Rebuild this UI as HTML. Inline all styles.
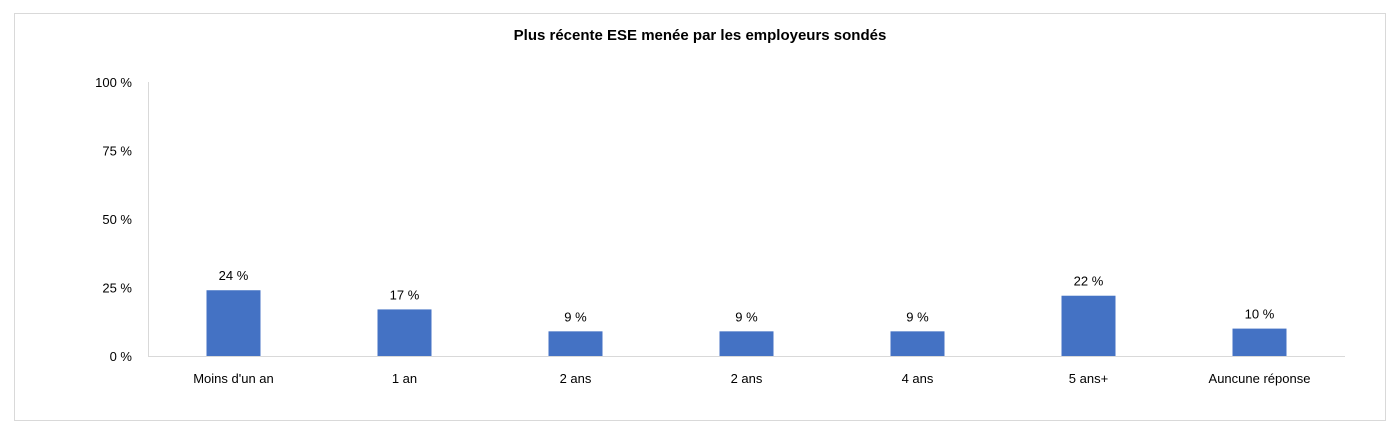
<!DOCTYPE html>
<html><head><meta charset="utf-8"><style>
body{margin:0;background:#fff;width:1400px;height:439px;overflow:hidden;font-family:"Liberation Sans",sans-serif}
</style></head><body>
<svg width="1400" height="439" xmlns="http://www.w3.org/2000/svg">
<rect x="14.5" y="13.5" width="1371" height="407" fill="#fff" stroke="#d9d9d9"/>
<text x="700" y="40" text-anchor="middle" font-size="15" font-weight="bold" fill="#000">Plus récente ESE menée par les employeurs sondés</text>
<g id="plot"></g>
</svg>
<script>
const categories=["Moins d'un an","1 an","2 ans","2 ans","4 ans","5 ans+","Auncune réponse"];
const values=[24,17,9,9,9,22,10];
const valueLabels=["24 %","17 %","9 %","9 %","9 %","22 %","10 %"];
const ticks=[0,25,50,75,100];
const tickLabels=["0 %","25 %","50 %","75 %","100 %"];
const NS="http://www.w3.org/2000/svg";
const g=document.getElementById('plot');
const x0=148,x1=1345,y0=356,yTop=82;
const y=v=>y0-(v/100)*(y0-yTop);
const band=(x1-x0)/categories.length;
const xc=i=>x0+band*(i+0.5);
function mk(t,a){const e=document.createElementNS(NS,t);for(const k in a)e.setAttribute(k,a[k]);g.appendChild(e);return e;}
ticks.forEach((t,i)=>{
 const e=mk('text',{x:132,y:y(t)+5,'text-anchor':'end','font-size':13,fill:'#000'});
 e.textContent=tickLabels[i];
 
 
});
const ax=mk('line',{x1:x0+0.5,y1:yTop,x2:x0+0.5,y2:y0,stroke:'#d9d9d9'});


const xa=mk('line',{x1:x0,y1:y0+0.5,x2:x1,y2:y0+0.5,stroke:'#d9d9d9'});


categories.forEach((c,i)=>{
 const bw=54;
 const r=mk('rect',{x:xc(i)-bw/2,y:y(values[i]),width:bw,height:y0-y(values[i]),fill:'#4472c4'});
 
 
 const l=mk('text',{x:xc(i),y:y(values[i])-10,'text-anchor':'middle','font-size':13,fill:'#000'});
 l.textContent=valueLabels[i];
 
 
 const cl=mk('text',{x:xc(i),y:383,'text-anchor':'middle','font-size':13,fill:'#000'});
 cl.textContent=c;
 
 
});
</script>
</body></html>
